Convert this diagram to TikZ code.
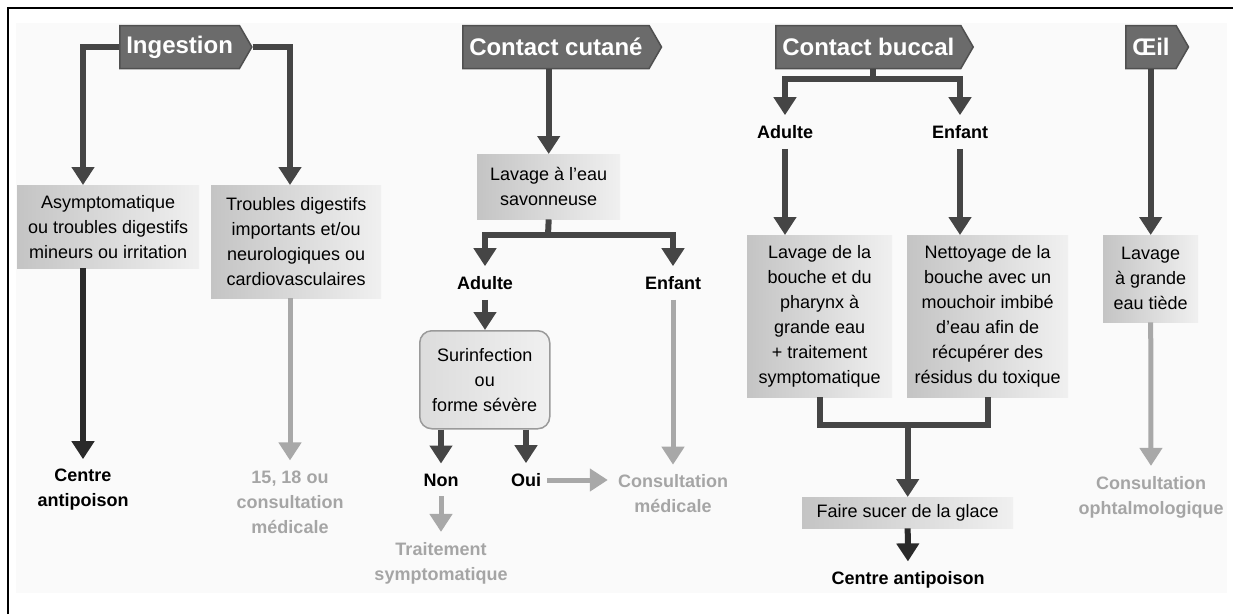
\documentclass[tikz,border=0pt]{standalone}
\usepackage{fontspec}
\setmainfont{Liberation Sans}
\usepackage{xcolor}
\usetikzlibrary{shapes.symbols,arrows.meta,calc}
\definecolor{linedark}{HTML}{454545}
\definecolor{linedarker}{HTML}{2A2A2A}
\definecolor{greyline}{HTML}{A8A8A8}
\definecolor{greytext}{HTML}{A5A5A5}
\definecolor{tagfill}{HTML}{6B6B6B}
\definecolor{tagline}{HTML}{505050}
\definecolor{boxdark}{HTML}{C4C4C4}
\definecolor{boxmid}{HTML}{DCDCDC}
\definecolor{boxlight}{HTML}{F0F0F0}
\definecolor{boxline}{HTML}{9A9A9A}
\definecolor{panel}{HTML}{FAFAFA}

\begin{document}
\begin{tikzpicture}[x=1pt,y=-1pt,
    tag/.style={signal,signal to=east,signal pointer angle=120,anchor=west,fill=tagfill,draw=tagline,line width=1.5pt,text=white,font=\fontsize{24}{28}\selectfont\bfseries,inner xsep=6.5pt,minimum height=43pt},
    box/.style={anchor=north west,left color=boxdark,right color=boxlight,align=center,inner sep=0pt,font=\fontsize{18}{25}\selectfont},
    lab/.style={align=center,font=\fontsize{18}{25}\selectfont\bfseries,inner sep=2pt},
    glab/.style={lab,text=greytext},
    line/.style={draw=linedark,line width=6pt},
    arr/.style={line,-{Triangle[width=22pt,length=18pt]}},
    garr/.style={arr,draw=greyline,line width=5pt},
    tolab/.style={shorten >=8pt},
    fromlab/.style={shorten <=8pt}]
    \useasboundingbox (0,0) rectangle (1233,614);
    \fill[panel] (16,23) rectangle (1227,593);
    \draw[line width=2pt] (8,614) -- (8,8) -- (1233,8);

    \node[tag] (ing) at (119,47) {Ingestion};
    \node[tag] (cut) at (462,47) {Contact cutané};
    \node[tag] (buc) at (775,47) {Contact buccal};
    \node[tag] (oeil) at (1125,47) {Œil};

    \node[box,minimum width=182pt,minimum height=83pt] (asym) at (17,185) {Asymptomatique\\ou troubles digestifs\\mineurs ou irritation};
    \node[box,minimum width=170pt,minimum height=113pt] (trou) at (211,185) {Troubles digestifs\\importants et/ou\\neurologiques ou\\cardiovasculaires};
    \node[lab] (cap1) at (83,490) {Centre\\antipoison};
    \node[glab] (med1) at (290,502) {15, 18 ou\\consultation\\médicale};

    \node[box,minimum width=143pt,minimum height=65pt] (lav) at (477,154) {Lavage à l'eau\\savonneuse};
    \coordinate (j1) at (548,235);
    \node[lab] (adu1) at (485,283) {Adulte};
    \node[lab] (enf1) at (673,283) {Enfant};
    \node[box,rounded corners=12pt,draw=boxline,line width=1.5pt,left color=boxmid,minimum width=130pt,minimum height=98pt] (sur) at (419,330) {Surinfection\\ou\\forme sévère};
    \node[lab] (non) at (441,480) {Non};
    \node[lab] (oui) at (526,480) {Oui};
    \node[glab] (cm2) at (673,494) {Consultation\\médicale};
    \node[glab] (trait) at (441,563) {Traitement\\symptomatique};

    \coordinate (j2) at (873,79);
    \node[lab] (adu2) at (785,132) {Adulte};
    \node[lab] (enf2) at (960,132) {Enfant};
    \node[box,minimum width=145pt,minimum height=162pt] (lbo) at (747,235) {Lavage de la\\bouche et du\\pharynx à\\grande eau\\+ traitement\\symptomatique};
    \node[box,minimum width=161pt,minimum height=162pt] (nbo) at (907,235) {Nettoyage de la\\bouche avec un\\mouchoir imbibé\\d'eau afin de\\récupérer des\\résidus du toxique};
    \node[box,minimum width=211pt,minimum height=31pt] (gla) at (802,497) {Faire sucer de la glace};
    \node[lab] (cap2) at (908,580) {Centre antipoison};

    \node[box,minimum width=95pt,minimum height=87pt] (lgr) at (1103,235) {Lavage\\à grande\\eau tiède};
    \node[glab] (oph) at (1151,497) {Consultation\\ophtalmologique};

    \draw[arr] (ing.west) -| (cap1 |- asym.north);
    \draw[arr] (ing.east) -| (med1 |- trou.north);
    \draw[arr,draw=linedarker,tolab] (cap1 |- asym.south) -- (cap1.north);
    \draw[garr,tolab] (med1 |- trou.south) -- (med1.north);

    \draw[arr] (lav |- cut.south) -- (lav.north);
    \draw[line] (lav.south) -- (j1);
    \draw[arr,tolab] (j1) -| (adu1.north);
    \draw[arr,tolab] (j1) -| (enf1.north);
    \draw[arr,fromlab] (adu1.south) -- (adu1 |- sur.north);
    \draw[arr,tolab] (non |- sur.south) -- (non.north);
    \draw[arr,tolab] (oui |- sur.south) -- (oui.north);
    \draw[garr,shorten <=4pt,tolab] (oui.east) -- (oui.east -| cm2.west);
    \draw[garr,fromlab,tolab] (enf1.south) -- (cm2.north);
    \draw[garr,fromlab,tolab] (non.south) -- (trait.north);

    \draw[line] (buc.south -| j2) -- (j2);
    \draw[arr,tolab] (j2) -| (adu2.north);
    \draw[arr,tolab] (j2) -| (enf2.north);
    \draw[arr,fromlab] (adu2.south) -- (adu2 |- lbo.north);
    \draw[arr,fromlab] (enf2.south) -- (enf2 |- nbo.north);
    \draw[line] (lbo.south) |- ($(nbo.south)+(0,28)$) -- (nbo.south);
    \coordinate (j3) at ($(gla.north |- lbo.south)+(0,28)$);
    \draw[arr] (j3) -- (gla.north);
    \draw[arr,draw=linedarker,tolab] (gla.south) -- (cap2.north);

    \draw[arr] (lgr |- oeil.south) -- (lgr.north);
    \draw[garr,tolab] (lgr.south) -- (oph.north);
\end{tikzpicture}
\end{document}
